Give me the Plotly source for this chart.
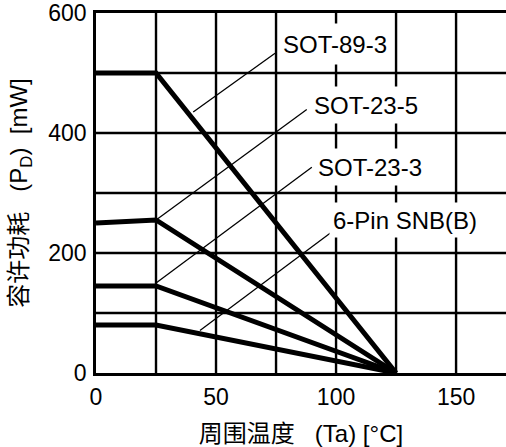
import plotly.graph_objects as go

# Ambient temperature break points (°C)
temps = [0, 25, 125]

# Allowable power dissipation per package (mW)
packages = ["SOT-89-3", "SOT-23-5", "SOT-23-3", "6-Pin SNB(B)"]
power = {
    "SOT-89-3": [500, 500, 0],
    "SOT-23-5": [250, 255, 0],
    "SOT-23-3": [145, 145, 0],
    "6-Pin SNB(B)": [80, 80, 0],
}

# Label centres (temperature, power) and leader-line endpoints
label_x = [99.6, 112.5, 114.2, 128.7]
label_y = [549, 446, 344, 255]
label_w = [110, 112, 112, 150]
label_h = [40, 36, 36, 34]
leader_from_x = [74.6, 87.8, 89.9, 98.2]
leader_from_y = [533, 439, 343, 235]
leader_to_x = [40.5, 25.3, 25.3, 43.3]
leader_to_y = [435, 256, 151, 71]

# Tick labels and grid positions
x_ticks = [0, 50, 100, 150]
y_ticks = [0, 200, 400, 600]
x_grid = [25, 50, 75, 100, 125, 150]
y_grid = [100, 200, 300, 400, 500]

FONT = "Liberation Sans, Arial, Noto Sans CJK SC, sans-serif"

fig = go.Figure()

# Grid drawn as solid black rules under the curves
for gx in x_grid:
    fig.add_shape(type="line", xref="x", yref="paper", x0=gx, x1=gx,
                  y0=0, y1=1, line=dict(color="black", width=2.4),
                  layer="below")
for gy in y_grid:
    fig.add_shape(type="line", xref="paper", yref="y", x0=0, x1=1,
                  y0=gy, y1=gy, line=dict(color="black", width=2.4),
                  layer="below")

for name in packages:
    fig.add_trace(go.Scatter(
        x=temps, y=power[name], mode="lines", name=name,
        line=dict(color="black", width=5), showlegend=False,
        hoverinfo="skip",
    ))

for i in range(len(packages)):
    fig.add_shape(
        type="line", xref="x", yref="y",
        x0=leader_from_x[i], y0=leader_from_y[i],
        x1=leader_to_x[i], y1=leader_to_y[i],
        line=dict(color="black", width=1.3), layer="above",
    )
    fig.add_annotation(
        x=label_x[i], y=label_y[i], xref="x", yref="y",
        text=packages[i], showarrow=False,
        font=dict(family=FONT, size=24, color="black"),
        bgcolor="white", borderpad=0,
        width=label_w[i], height=label_h[i],
    )

fig.update_layout(
    template="none",
    width=506, height=447,
    margin=dict(l=96, r=0, t=13, b=74),
    paper_bgcolor="white", plot_bgcolor="white",
    font=dict(family=FONT, size=23, color="black"),
    xaxis=dict(
        range=[0, 170.8], tickvals=x_ticks, ticks="", showgrid=False,
        showline=True, linecolor="black", linewidth=2.5, mirror=True,
        zeroline=False, ticklabelstandoff=2, automargin=False,
        title=dict(text="周围温度\u00a0\u00a0 (Ta) [°C]", standoff=18,
                   font=dict(size=24)),
    ),
    yaxis=dict(
        range=[0, 600], tickvals=y_ticks, ticks="", showgrid=False,
        showline=True, linecolor="black", linewidth=2.5, mirror=False,
        zeroline=False, ticklabelstandoff=2, automargin=False,
        title=dict(text="容许功耗\u00a0\u00a0 (P<sub>D</sub>)\u00a0 [mW]",
                   standoff=14, font=dict(size=24)),
    ),
)

fig.write_html("out.html")
